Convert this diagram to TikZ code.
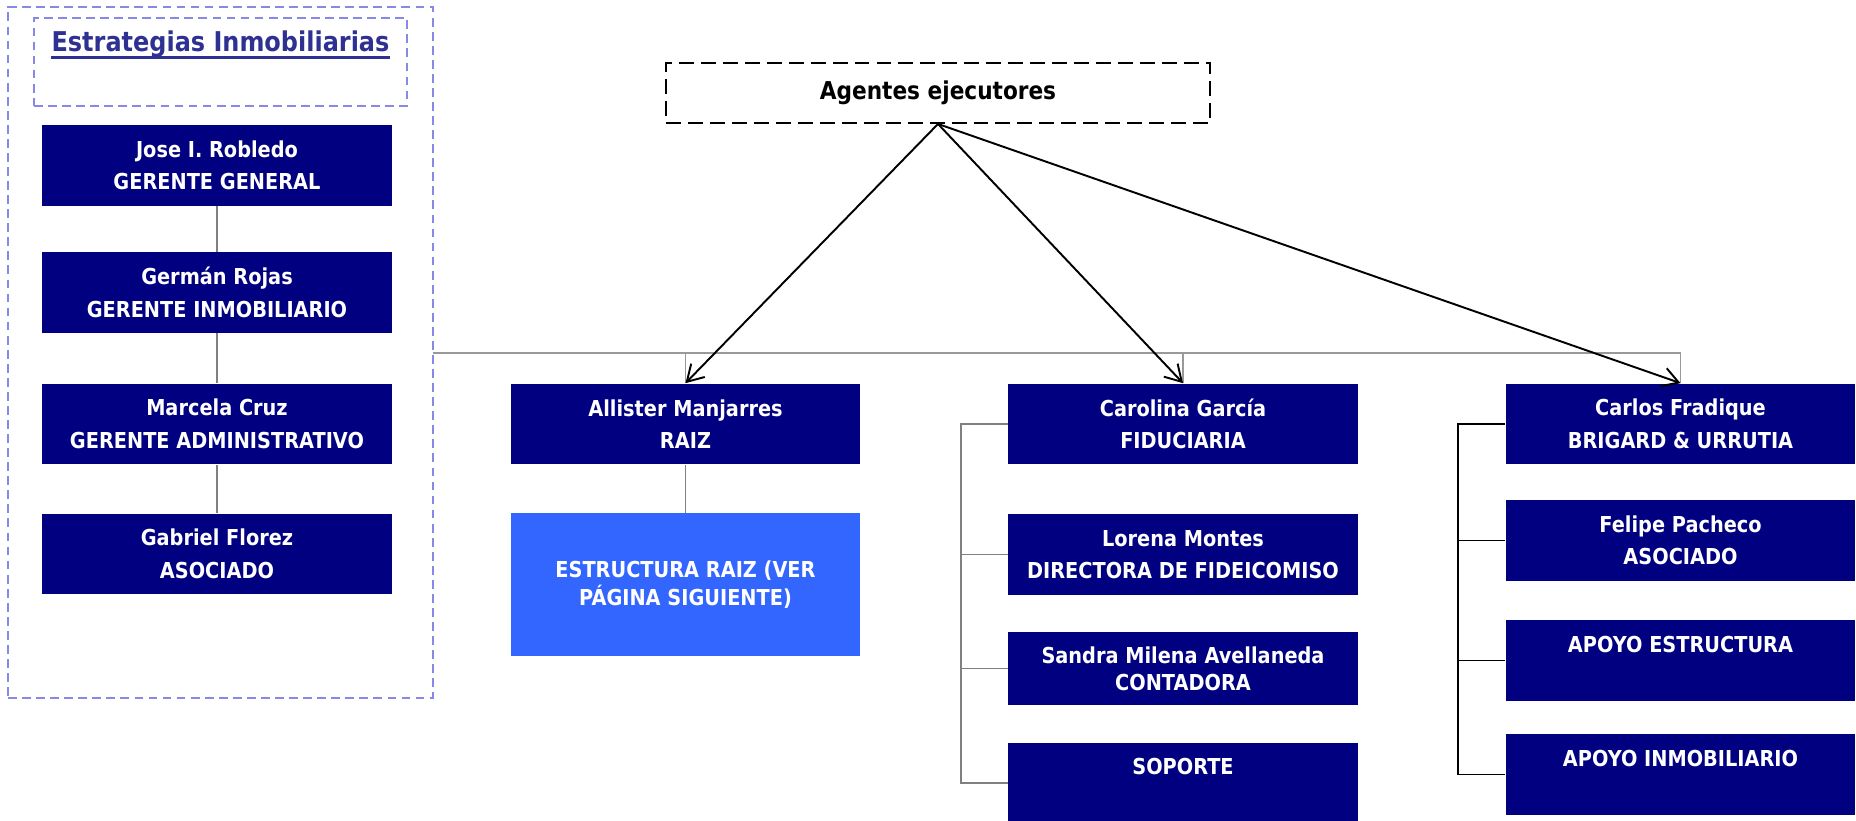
\documentclass[tikz,border=0pt]{standalone}
\usepackage{fontspec}
\setmainfont{DejaVu Sans}[FakeStretch=0.88]
\usetikzlibrary{arrows.meta}
\definecolor{marino}{RGB}{0,0,128}
\definecolor{celeste}{RGB}{51,102,255}
\definecolor{lavanda}{RGB}{136,136,230}
\definecolor{tituloazul}{RGB}{46,49,146}
\definecolor{gris}{RGB}{128,128,128}
\begin{document}
\begin{tikzpicture}[x=0.02cm,y=-0.02cm,font=\bfseries\fontsize{12.5}{18.5}\selectfont,
  caja/.style={fill=marino,text=white,minimum width=7cm,minimum height=1.62cm,inner sep=0pt,align=center},
  marco/.style={draw=lavanda,line width=1.1pt,dash pattern=on 5pt off 3pt,inner sep=0pt},
  conn/.style={draw=gris,line width=1.1pt},
  bus/.style={draw=gris!80,line width=0.9pt},
  flecha/.style={-{Straight Barb[length=3.2mm,width=3.8mm]},line width=1.1pt}]
\useasboundingbox (0,0) rectangle (1856,821);
% grupo de la izquierda
\node[marco,minimum width=8.5cm,minimum height=13.82cm] (grupo) at (220.5,352.5) {};
\node[marco,minimum width=7.46cm,minimum height=1.76cm] (marcotit) at (220.5,62) {};
\node[text=tituloazul,font=\bfseries\fontsize{15.5}{18}\selectfont,inner sep=0pt] (titulo) at (220.5,44) {Estrategias Inmobiliarias};
\draw[tituloazul,line width=1.5pt] ([yshift=-3.5pt]titulo.base west) -- ([yshift=-3.5pt]titulo.base east);
\node[caja] (jose) at (217,165.5) {Jose I. Robledo\\GERENTE GENERAL};
\node[caja] (german) at (217,292.5) {Germán Rojas\\GERENTE INMOBILIARIO};
\node[caja] (marcela) at (217,424) {Marcela Cruz\\GERENTE ADMINISTRATIVO};
\node[caja] (gabriel) at (217,554) {Gabriel Florez\\ASOCIADO};
\draw[conn] (jose) -- (german);
\draw[conn] (german) -- (marcela);
\draw[conn] (marcela) -- (gabriel);
% agentes
\node[draw,line width=1.1pt,dash pattern=on 8.5pt off 4pt,minimum width=10.88cm,minimum height=1.2cm,inner sep=0pt,font=\bfseries\fontsize{14}{17}\selectfont] (agentes) at (938,93) {Agentes ejecutores};
\node[caja] (allister) at (685.5,424) {Allister Manjarres\\RAIZ};
\node[caja,fill=celeste,minimum height=2.86cm,font=\bfseries\fontsize{12.5}{15.5}\selectfont] (estructura) at (685.5,584.5) {ESTRUCTURA RAIZ (VER\\PÁGINA SIGUIENTE)};
\node[caja] (carolina) at (1183,424) {Carolina García\\FIDUCIARIA};
\node[caja] (lorena) at (1183,554.5) {Lorena Montes\\DIRECTORA DE FIDEICOMISO};
\node[caja,minimum height=1.46cm,font=\bfseries\fontsize{12.5}{15.5}\selectfont] (sandra) at (1183,668.5) {Sandra Milena Avellaneda\\CONTADORA};
\node[caja,minimum height=1.6cm] (soporte) at (1183,783) {SOPORTE\\~};
\node[caja] (carlos) at (1680.5,424) {Carlos Fradique\\BRIGARD \& URRUTIA};
\node[caja] (felipe) at (1680.5,540.5) {Felipe Pacheco\\ASOCIADO};
\node[caja] (apoyoest) at (1680.5,660.5) {APOYO ESTRUCTURA\\~};
\node[caja] (apoyoinm) at (1680.5,774.5) {APOYO INMOBILIARIO\\~};
% lineas
\coordinate (busL) at (433,353);
\draw[bus] (busL) -| (carlos.north);
\draw[bus] (allister.north) -- (allister.north |- busL);
\draw[bus] (carolina.north) -- (carolina.north |- busL);
\draw[conn] (allister) -- (estructura);
\draw[conn] (carolina.west) -- ++(-47,0) |- (soporte.west);
\draw[conn] (lorena.west) -- ++(-47,0);
\draw[conn] (sandra.west) -- ++(-47,0);
\draw[line width=1.1pt] (carlos.west) -- ++(-47,0) |- (apoyoinm.west);
\draw[line width=1.1pt] (felipe.west) -- ++(-47,0);
\draw[line width=1.1pt] (apoyoest.west) -- ++(-47,0);
\draw[flecha] (agentes.south) -- (allister.north);
\draw[flecha] (agentes.south) -- (carolina.north);
\draw[flecha] (agentes.south) -- (carlos.north);
\end{tikzpicture}
\end{document}
